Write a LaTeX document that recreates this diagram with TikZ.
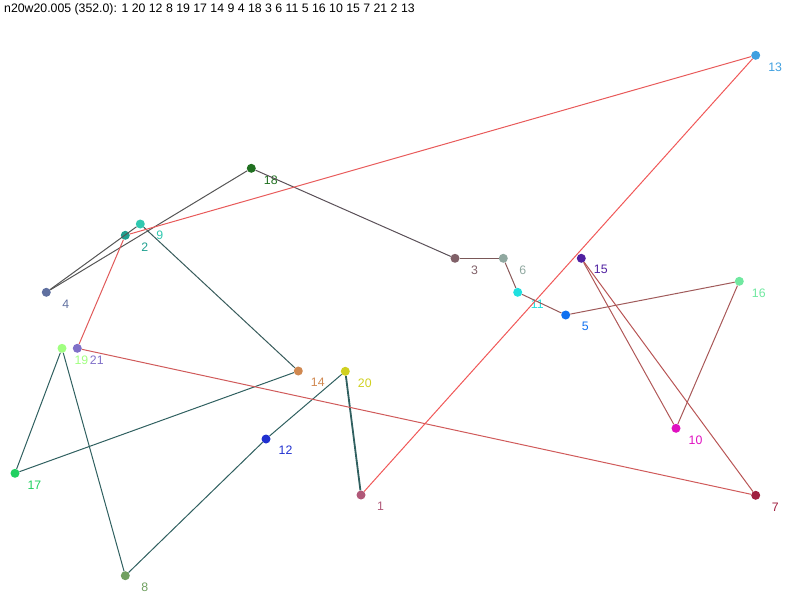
\documentclass[tikz,border=0pt]{standalone}
\usepackage{fontspec}
\setmainfont{Liberation Sans}
\definecolor{k1}{HTML}{B05878}
\definecolor{k2}{HTML}{20A090}
\definecolor{k3}{HTML}{806068}
\definecolor{k4}{HTML}{6070A0}
\definecolor{k5}{HTML}{1070F0}
\definecolor{k6}{HTML}{90A8A0}
\definecolor{k7}{HTML}{A02040}
\definecolor{k8}{HTML}{70A060}
\definecolor{k9}{HTML}{30C8B0}
\definecolor{k10}{HTML}{E010C0}
\definecolor{k11}{HTML}{20E0E0}
\definecolor{k12}{HTML}{2030D0}
\definecolor{k13}{HTML}{40A0E0}
\definecolor{k14}{HTML}{D08850}
\definecolor{k15}{HTML}{5020A0}
\definecolor{k16}{HTML}{70E8A0}
\definecolor{k17}{HTML}{20D060}
\definecolor{k18}{HTML}{207020}
\definecolor{k19}{HTML}{A0FF80}
\definecolor{k20}{HTML}{D0D020}
\definecolor{k21}{HTML}{8070C8}
% leg colours, teal -> grey -> brown -> red
\definecolor{teal1}{HTML}{306060}
\definecolor{teal2}{HTML}{385C5C}
\definecolor{grey1}{HTML}{555555}
\definecolor{grey2}{HTML}{5A5058}
\definecolor{brn1}{HTML}{7A5858}
\definecolor{brn2}{HTML}{8A5858}
\definecolor{brn3}{HTML}{955858}
\definecolor{brn4}{HTML}{A05A5A}
\definecolor{brn5}{HTML}{A85858}
\definecolor{brn6}{HTML}{B05858}
\definecolor{brn7}{HTML}{B85555}
\definecolor{red1}{HTML}{D05A5A}
\definecolor{red2}{HTML}{E05A5A}
\definecolor{red3}{HTML}{E85A5A}
\definecolor{red4}{HTML}{F05858}
\tikzset{city/.style = {circle, fill=#1, minimum size=9pt, inner sep=0pt},
         tag/.style  = {text=#1, anchor=west, xshift=19.5pt, yshift=-11.5pt, inner sep=0pt,
                        font=\fontsize{12.3}{12.3}\selectfont},
         leg/.style  = {draw=#1, line width=1pt}}

\begin{document}
\begin{tikzpicture}[x=1pt, y=-1pt]
    \useasboundingbox (0,0) rectangle (800,600);
    \node[anchor=north west, inner sep=0pt, font=\fontsize{12.3}{12.3}\selectfont] (title) at (4,3)
      {n20w20.005 (352.0): 1 20 12 8 19 17 14 9 4 18 3 6 11 5 16 10 15 7 21 2 13};
    \node[city=k1,  label={[tag=k1]center:1}]   (c1)  at (361,495) {};
    \node[city=k2,  label={[tag=k2]center:2}]   (c2)  at (125.3,235.3) {};
    \node[city=k3,  label={[tag=k3]center:3}]   (c3)  at (455,258.3) {};
    \node[city=k4,  label={[tag=k4]center:4}]   (c4)  at (46.3,292.3) {};
    \node[city=k5,  label={[tag=k5]center:5}]   (c5)  at (565.7,315) {};
    \node[city=k6,  label={[tag=k6]center:6}]   (c6)  at (503.3,258.3) {};
    \node[city=k7,  label={[tag=k7]center:7}]   (c7)  at (755.7,495.3) {};
    \node[city=k8,  label={[tag=k8]center:8}]   (c8)  at (125.3,575.7) {};
    \node[city=k9,  label={[tag=k9]center:9}]   (c9)  at (140.3,224) {};
    \node[city=k10, label={[tag=k10]center:10}] (c10) at (676,428.3) {};
    \node[city=k11, label={[tag=k11]center:11}] (c11) at (517.7,292.3) {};
    \node[city=k12, label={[tag=k12]center:12}] (c12) at (266,439) {};
    \node[city=k13, label={[tag=k13]center:13}] (c13) at (755.7,55.3) {};
    \node[city=k14, label={[tag=k14]center:14}] (c14) at (298.3,371) {};
    \node[city=k15, label={[tag=k15]center:15}] (c15) at (581.3,258.3) {};
    \node[city=k16, label={[tag=k16]center:16}] (c16) at (739.3,281.3) {};
    \node[city=k17, label={[tag=k17]center:17}] (c17) at (15,473.3) {};
    \node[city=k18, label={[tag=k18]center:18}] (c18) at (251.3,168.3) {};
    \node[city=k19, label={[tag=k19]center:19}] (c19) at (62,348.3) {};
    \node[city=k20, label={[tag=k20]center:20}] (c20) at (345.3,371.3) {};
    \node[city=k21, label={[tag=k21]center:21}] (c21) at (77.3,348.3) {};
    \draw[leg=teal1, line width=1.8pt] (c1) -- (c20);
    \draw[leg=teal1] (c20) -- (c12);
    \draw[leg=teal1] (c12) -- (c8);
    \draw[leg=teal1] (c8) -- (c19);
    \draw[leg=teal1] (c19) -- (c17);
    \draw[leg=teal1] (c17) -- (c14);
    \draw[leg=teal2] (c14) -- (c9);
    \draw[leg=grey1] (c9) -- (c4);
    \draw[leg=grey1] (c4) -- (c18);
    \draw[leg=grey2] (c18) -- (c3);
    \draw[leg=brn1] (c3) -- (c6);
    \draw[leg=brn2] (c6) -- (c11);
    \draw[leg=brn3] (c11) -- (c5);
    \draw[leg=brn4] (c5) -- (c16);
    \draw[leg=brn5] (c16) -- (c10);
    \draw[leg=brn6] (c10) -- (c15);
    \draw[leg=brn7] (c15) -- (c7);
    \draw[leg=red1] (c7) -- (c21);
    \draw[leg=red2] (c21) -- (c2);
    \draw[leg=red3] (c2) -- (c13);
    \draw[leg=red4] (c13) -- (c1);
\end{tikzpicture}
\end{document}
